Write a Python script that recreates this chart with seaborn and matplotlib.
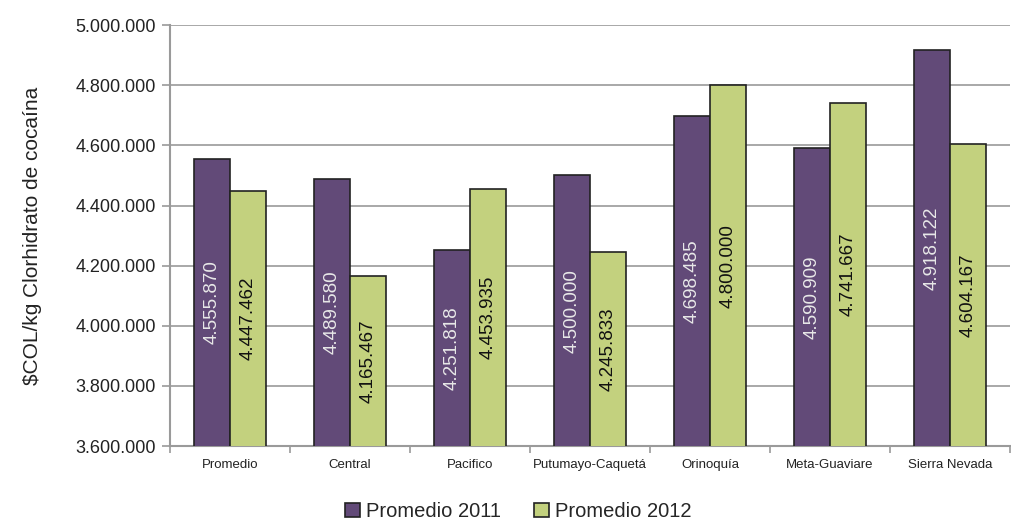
import pandas as pd
import seaborn as sns
import matplotlib.pyplot as plt
import matplotlib
matplotlib.use('Agg')

# datos
regiones = ['Promedio', 'Central', 'Pacifico', 'Putumayo-Caquetá', 'Orinoquía',
            'Meta-Guaviare', 'Sierra Nevada']
prom_2011 = [4555870, 4489580, 4251818, 4500000, 4698485, 4590909, 4918122]
prom_2012 = [4447462, 4165467, 4453935, 4245833, 4800000, 4741667, 4604167]
series = ['Promedio 2011', 'Promedio 2012']
colores = ['#624A78', '#C3D17E']
y_min, y_max = 3600000, 5000000

df = pd.DataFrame({
    'region': regiones * 2,
    'serie': [series[0]] * len(regiones) + [series[1]] * len(regiones),
    'valor': prom_2011 + prom_2012,
})

sns.set_style('white')
plt.rcParams['font.family'] = ['Liberation Sans', 'DejaVu Sans']


def fmt(v):
    return f'{v:,.0f}'.replace(',', '.')


fig = plt.figure(figsize=(10.12, 5.23), dpi=100)
ax = fig.add_axes([0.168, 0.147, 0.830, 0.805])

sns.barplot(data=df, x='region', y='valor', hue='serie', palette=colores, saturation=1,
            width=0.6, edgecolor='#222222', linewidth=1.2, ax=ax, zorder=3)

ax.set_ylim(y_min, y_max)
ax.set_xlim(-0.5, len(regiones) - 0.5)
ax.set_yticks(range(y_min, y_max + 1, 200000))
ax.set_yticklabels([fmt(v) for v in range(y_min, y_max + 1, 200000)], fontsize=13, color='#222222')
ax.yaxis.grid(True, color='#9a9a9a', linewidth=1.2, zorder=0)
ax.tick_params(axis='y', length=6, color='#9a9a9a', width=1.2, pad=4, left=True)
ax.set_xticks(range(len(regiones)))
ax.set_xticklabels(regiones, fontsize=9.5, color='#222222')
ax.set_xticks([i - 0.5 for i in range(len(regiones) + 1)], minor=True)
ax.tick_params(axis='x', which='major', length=0, pad=9)
ax.tick_params(axis='x', which='minor', length=5, color='#9a9a9a', width=1.2, bottom=True)
ax.set_xlabel('')
ax.set_ylabel('$COL/kg Clorhidrato de cocaína', fontsize=15, labelpad=24, color='#222222')
for s in ['top', 'right']:
    ax.spines[s].set_visible(False)
for s in ['left', 'bottom']:
    ax.spines[s].set_color('#9a9a9a')
    ax.spines[s].set_linewidth(1.5)

# etiquetas dentro de las barras
for cont, col_txt in zip(ax.containers, ['#e8e8e8', '#111111']):
    for rect, val in zip(cont.patches, cont.datavalues):
        ax.text(rect.get_x() + rect.get_width() / 2, (y_min + val) / 2, fmt(val),
                rotation=90, ha='center', va='center', fontsize=13.5, color=col_txt, zorder=4)

h, l = ax.get_legend_handles_labels()
ax.get_legend().remove()
fig.legend(h, l, loc='center', bbox_to_anchor=(0.512, 0.022), ncol=2, frameon=False,
           fontsize=14.5, handlelength=0.75, handleheight=0.75, handletextpad=0.3,
           columnspacing=1.6, borderaxespad=0, borderpad=0)

fig.savefig('out.png', dpi=100)
